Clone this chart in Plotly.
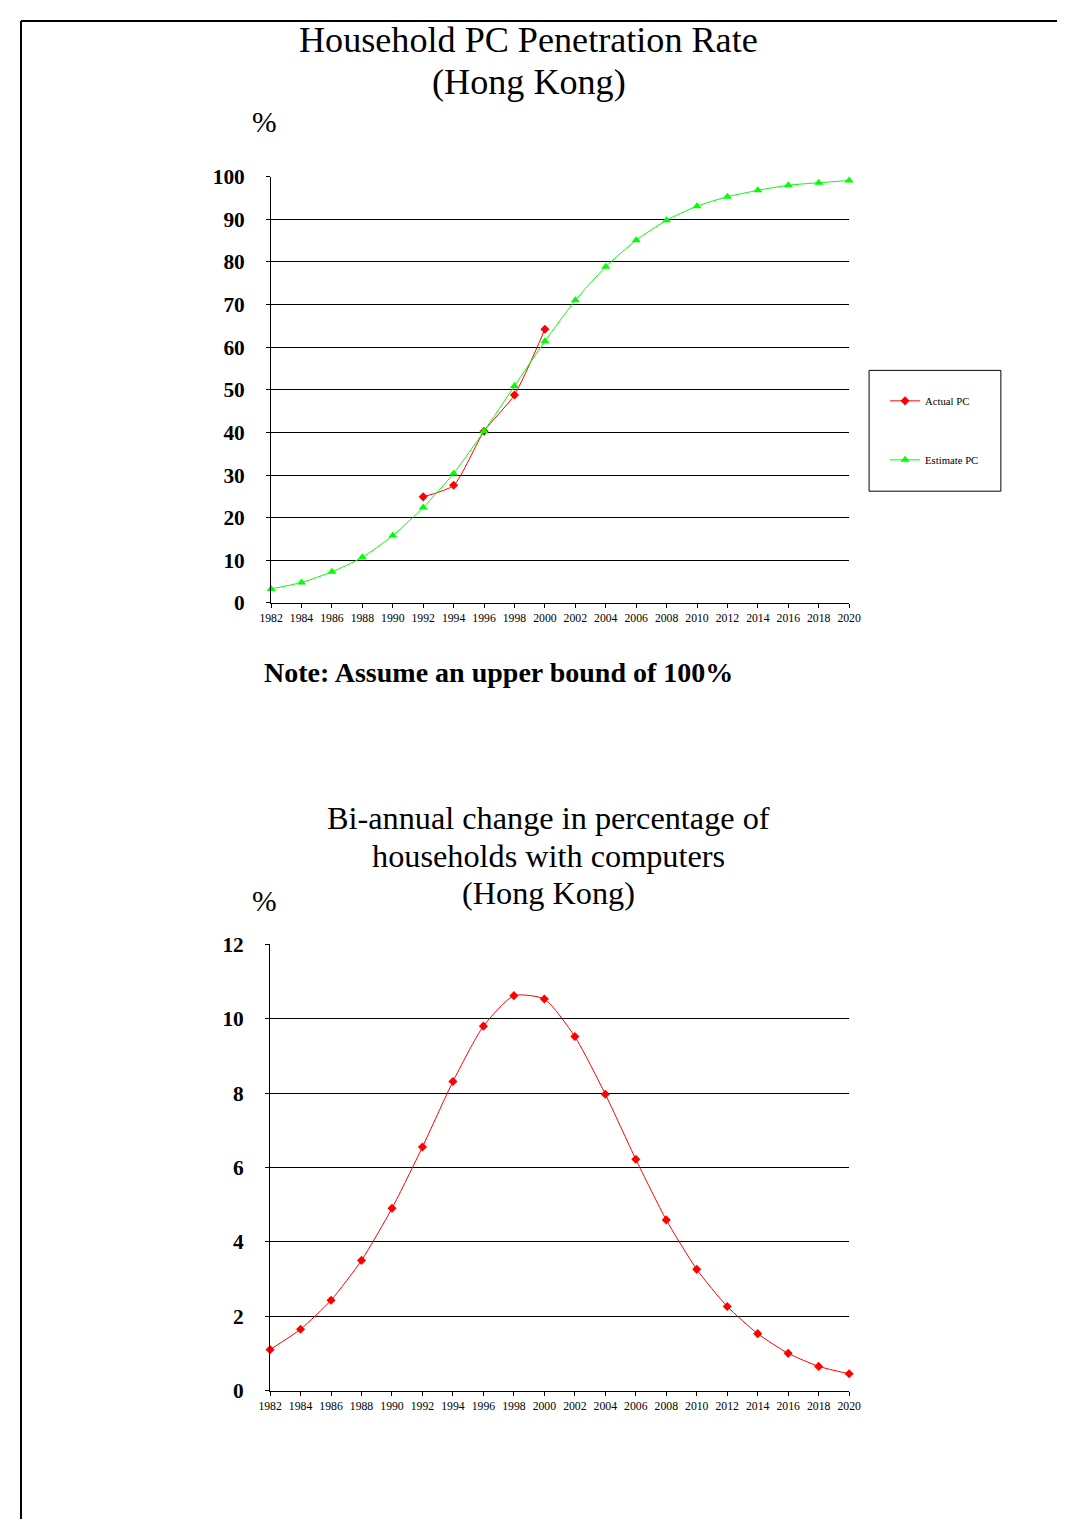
import plotly.graph_objects as go

years = list(range(1982, 2021, 2))
year_labels = [str(y) for y in years]

actual_years = [1992, 1994, 1996, 1998, 2000]
actual_pc = [24.9, 27.6, 40.3, 48.8, 64.2]

estimate_pc = [3.3, 4.8, 7.3, 10.7, 15.8, 22.4, 30.4, 40.3, 50.9, 61.4,
               71.0, 78.9, 85.1, 89.8, 93.1, 95.3, 96.8, 98.0, 98.6, 99.1]

biannual_change = [1.10, 1.65, 2.43, 3.50, 4.90, 6.55, 8.31, 9.80, 10.62, 10.53,
                   9.52, 7.97, 6.22, 4.59, 3.26, 2.26, 1.53, 1.00, 0.65, 0.45]

W, H = 1061, 1523
SERIF = "Liberation Serif, Times New Roman, serif"

# calibration of figure pixels -> photographed pixels
X0, XS = 17.5, 0.979
Y0, YS = 18.0, 0.986
FS = 0.982  # font scale


def px(s):
    return ((s - X0) / XS) / W


def py(s):
    return 1 - ((s - Y0) / YS) / H


def f(size):
    return size / FS


fig = go.Figure()

fig.add_trace(go.Scatter(
    x=actual_years, y=actual_pc, name="Actual PC", mode="lines+markers",
    line=dict(color="#FF0000", width=1, shape="spline", smoothing=0.6),
    marker=dict(symbol="diamond", size=7, color="#FF0000"),
    xaxis="x", yaxis="y", cliponaxis=False, legendgroup="a",
))
fig.add_trace(go.Scatter(
    x=years, y=estimate_pc, name="Estimate PC", mode="lines+markers",
    line=dict(color="#00FF00", width=1, shape="spline", smoothing=0.6),
    marker=dict(symbol="triangle-up", size=8, color="#00FF00"),
    xaxis="x", yaxis="y", cliponaxis=False, legendgroup="b",
))
fig.add_trace(go.Scatter(
    x=years, y=biannual_change, name="Change", mode="lines+markers",
    line=dict(color="#FF0000", width=1, shape="spline", smoothing=0.6),
    marker=dict(symbol="diamond", size=7, color="#FF0000"),
    xaxis="x2", yaxis="y2", cliponaxis=False, showlegend=False,
))

xaxis_common = dict(
    range=[1982, 2020], tickmode="array", tickvals=years, ticktext=year_labels,
    showgrid=False, zeroline=False, showline=True, linecolor="black", linewidth=1,
    ticks="outside", ticklen=4, tickcolor="black",
    tickfont=dict(family=SERIF, size=f(11.5), color="black"), tickangle=0,
)
yaxis_common = dict(
    showgrid=True, gridcolor="black", gridwidth=1, zeroline=False,
    showline=True, linecolor="black", linewidth=1,
    ticks="outside", ticklen=4, tickcolor="black",
    tickfont=dict(family=SERIF, size=f(21), color="black", weight="bold"),
    ticklabelstandoff=17,
)

fig.update_layout(
    width=W, height=H,
    margin=dict(l=0, r=0, t=0, b=0),
    paper_bgcolor="white", plot_bgcolor="white",
    xaxis=dict(domain=[px(269), px(848)], anchor="y", **xaxis_common),
    yaxis=dict(domain=[py(602), py(175)], anchor="x", range=[0, 100],
               tickvals=list(range(0, 101, 10)), **yaxis_common),
    xaxis2=dict(domain=[px(268), px(848)], anchor="y2", **xaxis_common),
    yaxis2=dict(domain=[py(1391), py(944)], anchor="x2", range=[0, 12],
                tickvals=list(range(0, 13, 2)), **yaxis_common),
    showlegend=True,
    legend=dict(
        x=px(884), y=py(385), xanchor="left", yanchor="top",
        bgcolor="rgba(0,0,0,0)", borderwidth=0,
        font=dict(family=SERIF, size=f(10.5), color="black"),
        traceorder="grouped", tracegroupgap=40, itemwidth=30,
    ),
    font=dict(family=SERIF, color="black"),
)

shapes = [
    # page border (top and left)
    dict(type="line", xref="paper", yref="paper", x0=1 / W, x1=1, y0=1 - 1 / H, y1=1 - 1 / H,
         line=dict(color="black", width=2)),
    dict(type="line", xref="paper", yref="paper", x0=1 / W, x1=1 / W, y0=1 - 1 / H, y1=0,
         line=dict(color="black", width=2)),
    # legend box
    dict(type="rect", xref="paper", yref="paper", x0=px(868), x1=px(1000),
         y0=py(490), y1=py(369), line=dict(color="black", width=1)),
]
fig.update_layout(shapes=shapes)

annotations = [
    (527, 38, "Household PC Penetration Rate", 35.5, False),
    (527, 80, "(Hong Kong)", 35.5, False),
    (262, 120, "%", 29, False),
    (497, 672, "Note: Assume an upper bound of 100%", 27.5, True),
    (547, 817, "Bi-annual change in percentage of", 31.7, False),
    (547, 855, "households with computers", 31.7, False),
    (547, 893, "(Hong Kong)", 31.7, False),
    (262, 901, "%", 29, False),
]
for x, y, text, size, bold in annotations:
    fig.add_annotation(
        x=px(x), y=py(y), xref="paper", yref="paper", text=text, showarrow=False,
        xanchor="center", yanchor="middle",
        font=dict(family=SERIF, size=f(size), color="black",
                  weight="bold" if bold else "normal"),
    )

fig.write_html("out.html")
